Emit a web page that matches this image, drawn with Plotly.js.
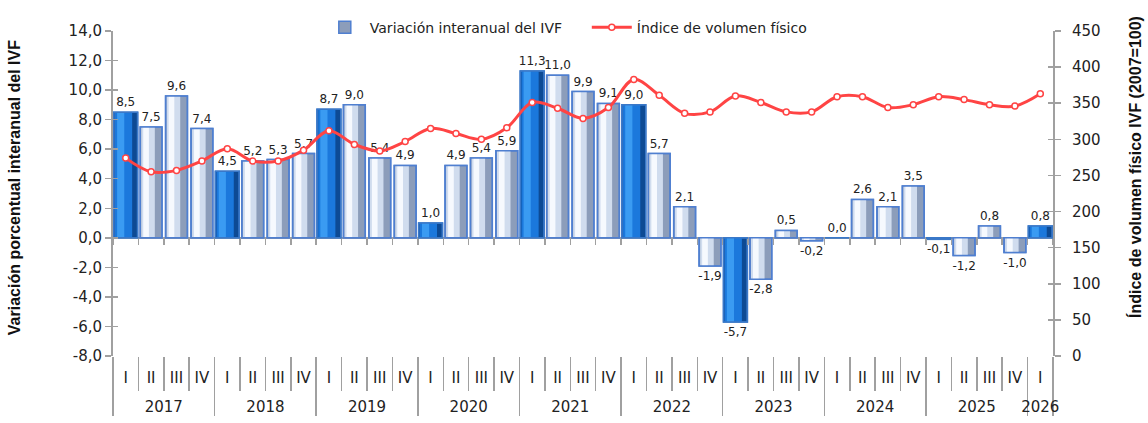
<!DOCTYPE html>
<html>
<head>
<meta charset="utf-8">
<script src="https://cdn.plot.ly/plotly-3.0.1.min.js"></script>
<style>html,body{margin:0;padding:0;background:#fff;}#chart{width:1148px;height:423px;}</style>
</head>
<body>
<div id="chart"></div>
<script>
const years = ['2017','2017','2017','2017','2018','2018','2018','2018','2019','2019','2019','2019',
  '2020','2020','2020','2020','2021','2021','2021','2021','2022','2022','2022','2022',
  '2023','2023','2023','2023','2024','2024','2024','2024','2025','2025','2025','2025','2026'];
const quarters = ['I','II','III','IV','I','II','III','IV','I','II','III','IV',
  'I','II','III','IV','I','II','III','IV','I','II','III','IV',
  'I','II','III','IV','I','II','III','IV','I','II','III','IV','I'];
const variacion = [8.5,7.5,9.6,7.4, 4.5,5.2,5.3,5.7, 8.7,9.0,5.4,4.9,
  1.0,4.9,5.4,5.9, 11.3,11.0,9.9,9.1, 9.0,5.7,2.1,-1.9,
  -5.7,-2.8,0.5,-0.2, 0.0,2.6,2.1,3.5, -0.1,-1.2,0.8,-1.0, 0.8];
const ivf = [274,255,257,270, 287,270,270,285, 312,293,284,297,
  315,308,300,316, 351,343,329,344, 383,361,336,338,
  360,351,338,338, 359,359,344,348, 359,355,348,346, 363];
const leftTicks = [-8,-6,-4,-2,0,2,4,6,8,10,12,14];
const rightTicks = [0,50,100,150,200,250,300,350,400,450];
const barName = 'Variación interanual del IVF';
const lineName = 'Índice de volumen físico';
const leftTitle = 'Variación porcentual interanual del IVF';
const rightTitle = 'Índice de volumen físico IVF (2007=100)';

const fmt = v => v.toFixed(1).replace('.', ',');
const xcat = [years.map(y => '<br>' + y), quarters];
const isQ1 = quarters.map(q => q === 'I');
const darkY = variacion.map((v,i) => isQ1[i] ? v : null);
const lightY = variacion.map((v,i) => isQ1[i] ? null : v);
const darkT = variacion.map((v,i) => isQ1[i] ? fmt(v) : '');
const lightT = variacion.map((v,i) => isQ1[i] ? '' : fmt(v));

function layers(y, txt, cols, w, fr, legend) {
  const common = {type:'bar', x:xcat, y:y, hoverinfo:'skip', cliponaxis:false};
  return [
    Object.assign({}, common, {name: barName, showlegend: legend, legendrank: 1,
      width:w, offset:-w/2, marker:{color:cols[0], line:{color:cols[3], width:1.5}}}),
    Object.assign({}, common, {showlegend:false, width:w*fr[0], offset:-w/2 + w*0.05,
      marker:{color:cols[1], line:{width:0}}}),
    Object.assign({}, common, {showlegend:false, width:w*fr[1], offset:-w/2 + w*0.14,
      marker:{color:cols[2], line:{width:0}}}),
    Object.assign({}, common, {showlegend:false, width:w, offset:-w/2,
      marker:{color:'rgba(255,255,255,0)', line:{color:cols[3], width:1.5}},
      text: txt, texttemplate:'%{text}', textposition:'outside', constraintext:'none',
      textfont:{family:'DejaVu Sans', size:12, color:'#222'}})
  ];
}

const lightCols = ['#8C9DBA','#D0DCEE','#F6F9FE','#4F7FD0'];
const darkCols = ['#0D4A94','#1B78DC','#3A9BF2','#3A78C8'];

const bounds = quarters.map((q,i) => i - 0.5).concat([quarters.length - 0.5]);
const xr = [-0.5, quarters.length - 0.5];

const traces = [].concat(
  layers(lightY, lightT, lightCols, 0.86, [0.62, 0.26], true),
  layers(darkY, darkT, darkCols, 0.94, [0.72, 0.3], false),
  [{type:'scatter', x:xcat, y:ivf, yaxis:'y2', name: lineName, legendrank: 2,
    mode:'lines+markers', hoverinfo:'skip',
    line:{color:'#FF4444', width:3, shape:'spline', smoothing:1},
    marker:{size:6, color:'#ffffff', line:{color:'#FF4444', width:1.5}}},
   {type:'scatter', x:[0], y:[null], xaxis:'x2', yaxis:'y', showlegend:false, hoverinfo:'skip'},
   {type:'scatter', x:[0], y:[null], xaxis:'x2', yaxis:'y3', showlegend:false, hoverinfo:'skip'},
   {type:'scatter', x:[0], y:[null], xaxis:'x2', yaxis:'y4', showlegend:false, hoverinfo:'skip'}]
);

const axisGray = '#A0A0A0';
const titleFont = {family:'Liberation Sans', size:16, weight:'bold', color:'#111'};
const layout = {
  width:1148, height:423,
  margin:{l:113, r:95, t:19, b:67},
  paper_bgcolor:'#ffffff', plot_bgcolor:'#ffffff',
  font:{family:'DejaVu Sans', color:'#222'},
  barmode:'overlay',
  showlegend:true,
  legend:{orientation:'h', x:0.22, xanchor:'left', y:1.01, yanchor:'middle',
    font:{size:14, color:'#222'}, bgcolor:'rgba(255,255,255,0)', itemwidth:40,
    entrywidth:212, entrywidthmode:'pixels'},
  xaxis:{type:'multicategory', range:xr, showdividers:true, dividercolor:axisGray, dividerwidth:1.5,
    ticks:'outside', tickson:'boundaries', ticklen:34, tickcolor:axisGray, tickwidth:1.5, tickangle:0,
    ticklabelstandoff:11,
    tickfont:{size:15, color:'#222'}, showline:false, showgrid:false, zeroline:false, automargin:false},
  xaxis2:{overlaying:'x', anchor:'free', position:(0 - leftTicks[0])/(leftTicks[leftTicks.length-1] - leftTicks[0]),
    range:xr, tickvals:bounds, ticks:'outside', ticklen:6, automargin:false,
    tickcolor:axisGray, tickwidth:1.5, showticklabels:false, showline:false, showgrid:false, zeroline:false},
  yaxis:{range:[leftTicks[0], leftTicks[leftTicks.length-1]], tickvals:leftTicks, ticktext:leftTicks.map(fmt),
    showline:true, linecolor:axisGray, linewidth:2, ticks:'outside', ticklen:6, tickcolor:axisGray, tickwidth:1.5,
    tickfont:{size:15, color:'#222'}, showgrid:false, zeroline:true, zerolinecolor:axisGray, zerolinewidth:2,
    automargin:false},
  yaxis2:{overlaying:'y', side:'right', range:[rightTicks[0], rightTicks[rightTicks.length-1]], tickvals:rightTicks,
    showline:true, linecolor:axisGray, linewidth:2, ticks:'outside', ticklen:6, tickcolor:axisGray, tickwidth:1.5,
    ticklabelstandoff:8, automargin:false,
    tickfont:{size:15, color:'#222'}, showgrid:false, zeroline:false},
  yaxis3:{overlaying:'y', side:'left', range:[leftTicks[0], leftTicks[leftTicks.length-1]], tickvals:leftTicks,
    ticks:'inside', ticklen:5, tickcolor:axisGray, tickwidth:1.5, showticklabels:false, showline:false,
    showgrid:false, zeroline:false, automargin:false},
  yaxis4:{overlaying:'y', side:'right', range:[rightTicks[0], rightTicks[rightTicks.length-1]], tickvals:rightTicks,
    ticks:'inside', ticklen:5, tickcolor:axisGray, tickwidth:1.5, showticklabels:false, showline:false,
    showgrid:false, zeroline:false, automargin:false},
  annotations:[
    {text:leftTitle, textangle:-90, xref:'paper', yref:'paper', x:(14-113)/940, y:(356-182)/337,
     xanchor:'center', yanchor:'middle', showarrow:false, font:titleFont},
    {text:rightTitle, textangle:-90, xref:'paper', yref:'paper', x:(1135-113)/940, y:(356-160)/337,
     xanchor:'center', yanchor:'middle', showarrow:false, font:titleFont}
  ]
};

Plotly.newPlot('chart', traces, layout, {displayModeBar:false, staticPlot:true});
</script>
</body>
</html>
